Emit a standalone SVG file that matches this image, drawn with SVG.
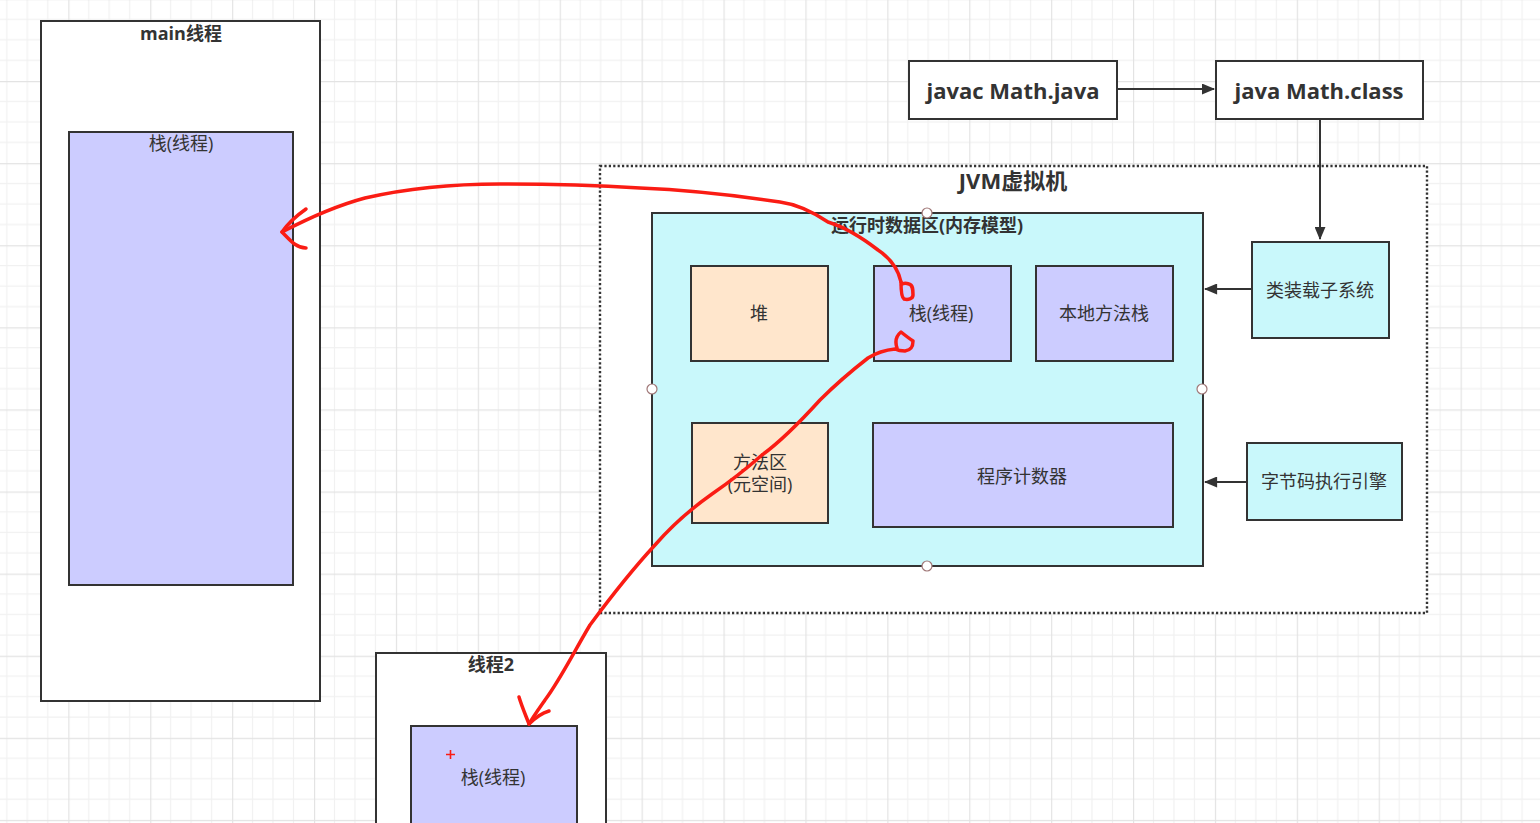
<svg xmlns="http://www.w3.org/2000/svg" width="1540" height="823" viewBox="0 0 1540 823">
<style>
text{font-family:"Open Sans","Noto Sans CJK SC",sans-serif;fill:#333;text-anchor:middle;dominant-baseline:central}
.t{font-size:18px}
.b{font-size:18px;font-weight:bold}
.box{stroke:#333;stroke-width:2}
.white{fill:#fff}
.stack{fill:#ccccff}
.peach{fill:#ffe6cc}
.cyan{fill:#c9f8fb}
.conn{stroke:#333;stroke-width:2;fill:none}
.red{stroke:#fa1c14;stroke-width:3.5;fill:none;stroke-linecap:round;stroke-linejoin:round}
.h{fill:#fff;stroke:#a07878;stroke-width:1.2}
</style>
<defs>
<pattern id="grid" patternUnits="userSpaceOnUse" x="68.3" y="-1.1" width="81.9" height="82.1">
<path d="M20.475 0V82.1M40.95 0V82.1M61.425 0V82.1M0 20.5H81.9M0 41H81.9M0 61.5H81.9" stroke="#f1f1f1" stroke-width="1.2"/>
<path d="M0.5 0V82.1M0 0.5H81.9" stroke="#e3e3e3" stroke-width="1.4"/>
</pattern>
<marker id="arr" viewBox="0 0 10 10" refX="9" refY="5" markerWidth="6" markerHeight="6" orient="auto" markerUnits="userSpaceOnUse">
<path d="M0 0L10 5L0 10Z" fill="#333"/>
</marker>
<marker id="arrL" viewBox="0 0 12 10" refX="11" refY="5" markerWidth="14" markerHeight="11" orient="auto" markerUnits="userSpaceOnUse">
<path d="M0 0L12 5L0 10Z" fill="#333"/>
</marker>
</defs>
<rect width="1540" height="823" fill="#fff"/>
<rect width="1540" height="823" fill="url(#grid)"/>

<g id="main-thread">
<rect class="box white" x="41" y="21" width="279" height="680"/>
<text class="b" x="181" y="33">main线程</text>
</g>
<g id="main-stack">
<rect class="box stack" x="69" y="132" width="224" height="453"/>
<text class="t" x="181" y="143">栈(线程)</text>
</g>

<g id="thread2">
<rect class="box white" x="376" y="653" width="230" height="190"/>
<text class="b" x="491" y="664">线程2</text>
</g>
<g id="thread2-stack">
<rect class="box stack" x="411" y="726" width="166" height="120"/>
<text class="t" x="493" y="777">栈(线程)</text>
<path d="M446 754.5H455M450.5 750V759" stroke="#fa1c14" stroke-width="1.6"/>
</g>

<g id="jvm">
<rect x="600" y="166" width="827" height="447" fill="#fff" stroke="#333" stroke-width="2.4" stroke-dasharray="2.2 2.2"/>
<text x="1013" y="180" style="font-size:22px;font-weight:bold">JVM虚拟机</text>
</g>

<g id="runtime-data-area">
<rect class="box cyan" x="652" y="213" width="551" height="353"/>
<text x="927" y="225" style="font-size:18px;font-weight:bold">运行时数据区(内存模型)</text>
</g>
<g id="heap">
<rect class="box peach" x="691" y="266" width="137" height="95"/>
<text class="t" x="759" y="313">堆</text>
</g>
<g id="stack">
<rect class="box stack" x="874" y="266" width="137" height="95"/>
<text class="t" x="941" y="313">栈(线程)</text>
</g>
<g id="native-stack">
<rect class="box stack" x="1036" y="266" width="137" height="95"/>
<text class="t" x="1104" y="313">本地方法栈</text>
</g>
<g id="method-area">
<rect class="box peach" x="692" y="423" width="136" height="100"/>
<text class="t" x="760" y="462">方法区</text>
<text class="t" x="760" y="484">(元空间)</text>
</g>
<g id="pc">
<rect class="box stack" x="873" y="423" width="300" height="104"/>
<text class="t" x="1022" y="476">程序计数器</text>
</g>
<g id="classloader">
<rect class="box cyan" x="1252" y="242" width="137" height="96"/>
<text class="t" x="1320" y="290">类装载子系统</text>
</g>
<g id="engine">
<rect class="box cyan" x="1247" y="443" width="155" height="77"/>
<text class="t" x="1324" y="481">字节码执行引擎</text>
</g>
<g id="javac">
<rect class="box white" x="909" y="61" width="208" height="58"/>
<text x="1013" y="90" style="font-size:22px;font-weight:bold">javac Math.java</text>
</g>
<g id="java">
<rect class="box white" x="1216" y="61" width="207" height="58"/>
<text x="1319" y="90" style="font-size:22px;font-weight:bold">java Math.class</text>
</g>

<g id="handles">
<circle class="h" cx="927" cy="213" r="5"/>
<circle class="h" cx="652" cy="389" r="5"/>
<circle class="h" cx="1202" cy="389" r="5"/>
<circle class="h" cx="927" cy="566" r="5"/>
</g>

<g id="connectors">
<path class="conn" d="M1117 89H1214" marker-end="url(#arrL)"/>
<path class="conn" d="M1320 119V239" marker-end="url(#arrL)"/>
<path class="conn" d="M1252 289H1205" marker-end="url(#arrL)"/>
<path class="conn" d="M1247 482H1205" marker-end="url(#arrL)"/>
<path class="red" d="M901 282C898 268 890 258 878 250C865 240 848 228 828 222C810 210 795 204 780 202C740 196 690 190 640 188C590 185 540 184 500 184C450 184 400 190 365 198C335 206 305 220 282 232"/>
<path class="red" d="M306 209C296 216 287 225 282 232C290 240 296 248 306 248"/>
<path class="red" d="M901 282C901 288 901 297 904 299C908 300 913 299 913 295C913 290 913 285 909 284C906 283 903 283 901 285"/>
<path class="red" d="M897 348C895 342 896 336 901 332C906 336 910 339 913 341C913 346 912 350 905 351C901 351 897 350 895 349C885 350 876 353 868 358C850 372 835 385 820 400C800 422 780 442 762 455C745 470 728 483 712 494C695 506 675 522 655 545C630 572 610 598 590 625C575 650 560 680 545 700C538 710 533 717 529 724"/>
<path class="red" d="M519 697C522 707 526 716 529 724C535 718 542 713 549 711"/>
</g>
</svg>
